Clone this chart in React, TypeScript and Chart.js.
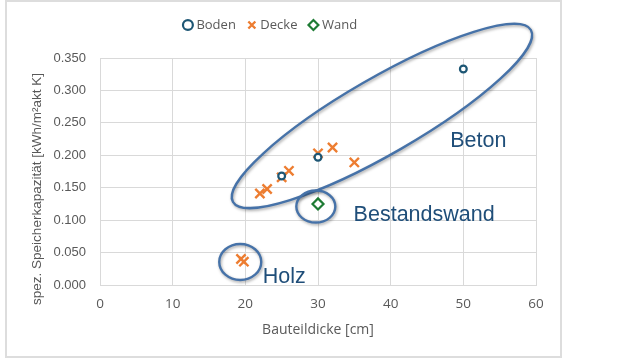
import React, { useEffect, useRef } from 'react';
import { Chart, registerables } from 'chart.js';

Chart.register(...registerables);

// ---- data ----
const bodenX = [25, 30, 50];
const bodenY = [0.168, 0.197, 0.333];

const deckeX = [19.4, 19.8, 22, 23, 25, 26, 30, 32, 35];
const deckeY = [0.040, 0.036, 0.141, 0.148, 0.166, 0.176, 0.203, 0.212, 0.189];

const wandX = [30];
const wandY = [0.125];

const seriesNames = ['Boden', 'Decke', 'Wand'];

const xTickValues = [0, 10, 20, 30, 40, 50, 60];
const yTickValues = [0, 0.05, 0.1, 0.15, 0.2, 0.25, 0.3, 0.35];

const xTitle = 'Bauteildicke [cm]';
const yTitle = 'spez. Speicherkapazität [kWh/m²akt K]';

// group annotations (text anchored in data units)
const groupLabels = ['Beton', 'Bestandswand', 'Holz'];
const groupLabelX = [48.2, 34.9, 22.4];
const groupLabelY = [0.213, 0.099, 0.003];

// ring annotations: centre in data units
const ringCenterX = [38.8, 29.7, 19.3];
const ringCenterY = [0.2606, 0.121, 0.0355];
const ringRadiusA = [172, 19.5, 21];
const ringRadiusB = [38, 16, 18];
const ringAngle = [-30, 0, 0];

const GRAY = '#595959';
const GRID = '#d9d9d9';

const toPoints = (xs: number[], ys: number[]) => xs.map((x, i) => ({ x, y: ys[i] }));

const overlayPlugin = {
  id: 'overlay',
  afterDatasetsDraw(chart: any) {
    const { ctx, chartArea } = chart;
    const sx = chart.scales.x;
    const sy = chart.scales.y;
    ctx.save();
    // rings
    for (let i = 0; i < ringCenterX.length; i++) {
      const cx = sx.getPixelForValue(ringCenterX[i]);
      const cy = sy.getPixelForValue(ringCenterY[i]);
      ctx.save();
      ctx.shadowColor = 'rgba(0,0,0,0.35)';
      ctx.shadowBlur = 3;
      ctx.shadowOffsetX = 1;
      ctx.shadowOffsetY = 1.5;
      ctx.beginPath();
      ctx.ellipse(cx, cy, ringRadiusA[i], ringRadiusB[i], (ringAngle[i] * Math.PI) / 180, 0, Math.PI * 2);
      ctx.strokeStyle = '#4672a8';
      ctx.lineWidth = 2.4;
      ctx.stroke();
      ctx.restore();
    }
    // group labels
    ctx.fillStyle = '#1f4e79';
    ctx.font = '21.5px "Liberation Sans", Arial, sans-serif';
    ctx.textAlign = 'left';
    ctx.textBaseline = 'alphabetic';
    for (let i = 0; i < groupLabels.length; i++) {
      ctx.fillText(groupLabels[i], sx.getPixelForValue(groupLabelX[i]), sy.getPixelForValue(groupLabelY[i]));
    }
    // axis titles
    ctx.fillStyle = GRAY;
    ctx.textAlign = 'center';
    ctx.textBaseline = 'middle';
    ctx.font = '14px "Open Sans", sans-serif';
    ctx.fillText(xTitle, (chartArea.left + chartArea.right) / 2, chartArea.bottom + 45);
    ctx.save();
    ctx.translate(chartArea.left - 63, (chartArea.top + chartArea.bottom) / 2 + 17.5);
    ctx.rotate(-Math.PI / 2);
    ctx.font = '13.5px "Liberation Sans", Arial, sans-serif';
    ctx.fillText(yTitle, 0, 0);
    ctx.restore();
    ctx.restore();
  },
};

export default function App() {
  const ref = useRef<HTMLCanvasElement | null>(null);

  useEffect(() => {
    if (!ref.current) return;
    const chart = new Chart(ref.current, {
      type: 'scatter',
      data: {
        datasets: [
          {
            label: seriesNames[0],
            data: toPoints(bodenX, bodenY),
            xAxisID: 'x',
            yAxisID: 'y',
            pointStyle: 'circle',
            pointRadius: 3.4,
            borderWidth: 2.2,
            borderColor: '#1d5674',
            backgroundColor: '#ffffff',
          },
          {
            label: seriesNames[1],
            data: toPoints(deckeX, deckeY),
            xAxisID: 'x',
            yAxisID: 'y',
            pointStyle: 'crossRot',
            pointRadius: 6.5,
            borderWidth: 2.4,
            borderColor: '#ed7d31',
            backgroundColor: '#ed7d31',
          },
          {
            label: seriesNames[2],
            data: toPoints(wandX, wandY),
            xAxisID: 'x',
            yAxisID: 'y',
            pointStyle: 'rectRot',
            pointRadius: 5.5,
            borderWidth: 2.2,
            borderColor: '#1e7b34',
            backgroundColor: '#ffffff',
          },
        ],
      },
      options: {
        animation: false,
        responsive: false,
        maintainAspectRatio: false,
        layout: { padding: { top: 2.5, right: 24, left: 0, bottom: 0 } },
        plugins: {
          legend: {
            position: 'top',
            labels: {
              usePointStyle: true,
              boxWidth: 4,
              boxHeight: 7,
              padding: 14,
              color: GRAY,
              font: { family: '"Open Sans", sans-serif', size: 13 },
            },
          },
          tooltip: { enabled: false },
        },
        scales: {
          x: {
            type: 'linear',
            position: 'bottom',
            min: 0,
            max: 60,
            afterBuildTicks: (s: any) => {
              s.ticks = xTickValues.map((v) => ({ value: v }));
            },
            grid: { color: GRID, lineWidth: 1, drawTicks: false },
            border: { color: GRID },
            ticks: {
              padding: 11,
              color: GRAY,
              font: { family: '"Open Sans", sans-serif', size: 13.5 },
            },
            afterFit: (s: any) => {
              s.height = 71;
            },
          },
          y: {
            type: 'linear',
            min: 0,
            max: 0.35,
            afterBuildTicks: (s: any) => {
              s.ticks = yTickValues.map((v) => ({ value: v }));
            },
            grid: { color: GRID, lineWidth: 1, drawTicks: false },
            border: { color: GRID },
            ticks: {
              padding: 14,
              color: GRAY,
              font: { family: '"Liberation Sans", Arial, sans-serif', size: 13 },
              callback: (v: any) => Number(v).toFixed(3),
            },
            afterFit: (s: any) => {
              s.width = 93;
            },
          },
          xTop: {
            type: 'linear',
            axis: 'x',
            position: 'top',
            min: 0,
            max: 60,
            display: true,
            grid: { display: false },
            border: { display: false },
            ticks: { display: false },
            afterFit: (s: any) => {
              s.height = 16.5;
            },
          },
        },
      },
      plugins: [overlayPlugin],
    } as any);
    return () => chart.destroy();
  }, []);

  return (
    <div style={{ position: 'absolute', left: 0, top: 0, width: 640, height: 360, background: '#fff' }}>
      <div
        style={{
          position: 'absolute',
          left: 5,
          top: 0,
          width: 557,
          height: 358,
          border: '2px solid #dddddd',
          boxSizing: 'border-box',
          background: '#fff',
        }}
      >
        <canvas ref={ref} width={553} height={354} style={{ display: 'block', width: 553, height: 354 }} />
      </div>
    </div>
  );
}
